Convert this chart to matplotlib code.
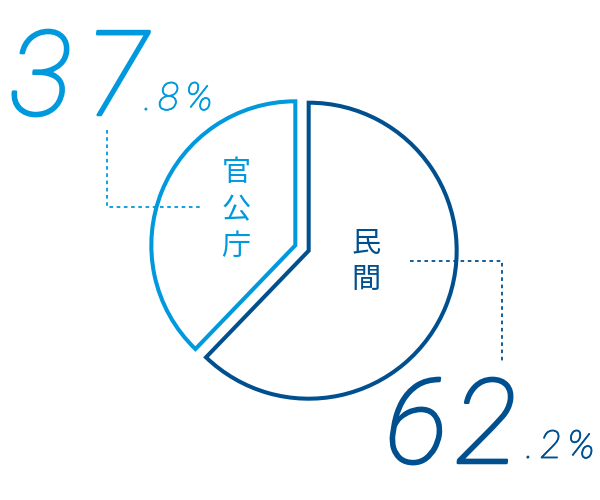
import matplotlib
matplotlib.use("Agg")
import matplotlib.pyplot as plt
import matplotlib.patheffects as pe

plt.rcParams['font.family'] = ['Noto Sans CJK JP', 'DejaVu Sans']

# ----- data -----
labels = ['官公庁', '民間']
shares = [37.8, 62.2]
int_parts = ['37', '62']
dec_parts = ['.8%', '.2%']
colors = ['#0099dd', '#004f8f']

fig = plt.figure(figsize=(6, 5), dpi=100)
ax = fig.add_axes([0, 0, 1, 1])

# y is flipped below, so start at -90 and go clockwise in data space
wedges, _ = ax.pie(shares, startangle=-90, counterclock=False,
                   center=(302, 248), radius=146, explode=[7.2, 7.2],
                   wedgeprops=dict(fill=False, linewidth=2.9, joinstyle='miter'))
for w, c, r in zip(wedges, colors, [144, 148]):
    w.set_edgecolor(c)
    w.set_radius(r)

ax.set_xlim(0, 600)
ax.set_ylim(500, 0)
ax.set_aspect('equal')
ax.axis('off')

renderer = fig.canvas.get_renderer()
num_font = dict(family='Roboto', weight='light', style='italic')


def spaced_text(x, y, s, track, color, size, thick):
    # draw a string one glyph at a time with extra letter spacing (pixels)
    fx = [pe.withStroke(linewidth=thick, foreground=color)]
    for ch in s:
        t = ax.text(x, y, ch, ha='left', va='baseline', color=color,
                    fontsize=size, path_effects=fx, **num_font)
        bb = t.get_window_extent(renderer)
        x += bb.width + track


# big percentages
spaced_text(9, 115, int_parts[0], 14, colors[0], 85, 1.8)
spaced_text(144, 110, dec_parts[0], 6, colors[0], 28, 0.6)
spaced_text(385, 463, int_parts[1], 7, colors[1], 85, 1.8)
spaced_text(526, 458, dec_parts[1], 6, colors[1], 28, 0.6)

# vertical labels
ax.text(236, 210, '\n'.join(labels[0]), color=colors[0], fontsize=21,
        ha='center', va='center', linespacing=1.3)
ax.text(366, 262, '\n'.join(labels[1]), color=colors[1], fontsize=21,
        ha='center', va='center', linespacing=1.3)

# dotted leaders
ax.plot([107, 107, 200], [130, 207, 207], color=colors[0], lw=1.3, ls=(0, (2, 2)))
ax.plot([410, 502, 502], [261, 261, 363], color=colors[1], lw=1.3, ls=(0, (2, 2)))

fig.savefig('out.png', dpi=100)
